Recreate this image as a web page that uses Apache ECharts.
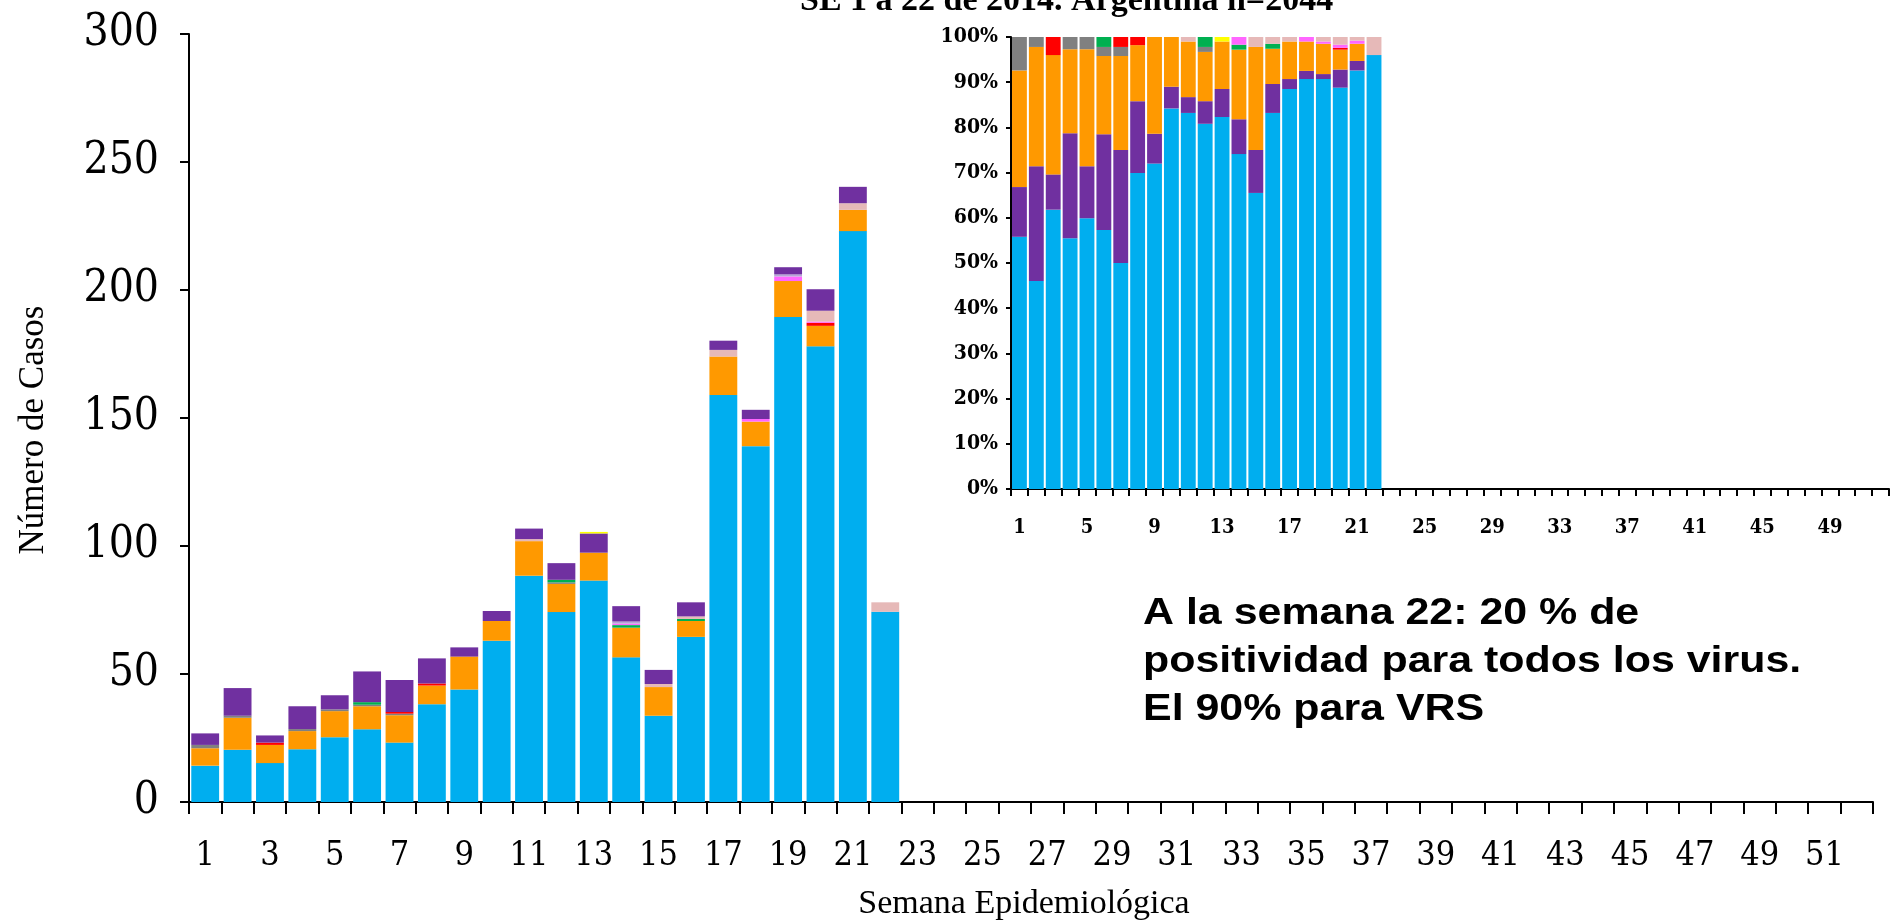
<!DOCTYPE html>
<html>
<head>
<meta charset="utf-8">
<script src="https://cdn.jsdelivr.net/npm/echarts@6/dist/echarts.min.js"></script>
<style>
html,body{margin:0;padding:0;background:#fff;}
#c{width:1892px;height:923px;}
</style>
</head>
<body>
<div id="c"></div>
<script>
// ---- Data ----
const weeks = Array.from({length: 52}, (_, i) => String(i + 1));

// Main chart: number of cases per week (SE 1-22)
const casesVSR      = [14.2, 20.4, 15.2, 20.6, 25.3, 28.4, 23.2, 38.2, 43.9, 63, 88.4, 74.2, 86.5, 56.5, 33.7, 64.5, 159, 139, 189.5, 178, 223, 74.3];
const casesOrange   = [6.8, 12.5, 7.1, 7.1, 10.2, 9, 10.7, 7.3, 12.9, 7.7, 13.5, 11, 10.9, 11.6, 11.2, 6.2, 15, 9.6, 14, 8, 8.3, 0];
const casesGray     = [1.3, 0.8, 0, 0.8, 0.7, 0.6, 0.6, 0, 0, 0, 0, 0.6, 0, 0, 0, 0, 0, 0, 0, 0, 0, 0];
const casesRed      = [0, 0, 0.9, 0, 0, 0, 0.7, 0.8, 0, 0, 0, 0, 0, 0, 0, 0, 0, 0, 0, 1.2, 0, 0];
const casesGreen    = [0, 0, 0, 0, 0, 1, 0, 0, 0, 0, 0, 1, 0, 1, 0, 0.8, 0, 0, 0, 0, 0, 0];
const casesMagenta  = [0, 0, 0, 0, 0, 0, 0, 0, 0, 0, 0, 0, 0, 0.6, 0, 0, 0, 1, 1.8, 0.5, 0, 0];
const casesLilac    = [0, 0, 0, 0, 0, 0, 0, 0, 0, 0, 0, 0, 0, 0.8, 0, 0, 0, 0, 0.8, 0, 0, 0];
const casesLightPink= [0, 0, 0, 0, 0, 0, 0, 0, 0, 0, 0.8, 0, 0, 0, 1.2, 1, 2.6, 0, 0, 4.2, 2.6, 3.7];
const casesPurple   = [4.5, 10.8, 2.8, 8.9, 5.5, 12, 12.5, 9.8, 3.6, 3.9, 4.1, 6.5, 7.5, 6, 5.5, 5.5, 3.6, 3.6, 2.8, 8.4, 6.4, 0];
const casesYellow   = [0, 0, 0, 0, 0, 0, 0, 0, 0, 0, 0, 0, 0.6, 0, 0, 0, 0, 0, 0, 0, 0, 0];

// Inset: percentage distribution per week
const pctVSR       = [55.8, 46, 61.8, 55.5, 59.9, 57.3, 50, 69.9, 72, 84.2, 83.2, 80.8, 82.3, 74.1, 65.5, 83.2, 88.5, 90.7, 90.7, 88.8, 92.6, 96];
const pctPurple    = [11, 25.4, 7.8, 23.2, 11.5, 21.2, 25, 15.9, 6.6, 4.8, 3.5, 5, 6.2, 7.7, 9.5, 6.4, 2.2, 1.8, 1.1, 4, 2.1, 0];
const pctOrange    = [25.8, 26.4, 26.4, 18.6, 25.9, 17.3, 20.8, 12.4, 21.4, 11, 12.3, 10.9, 10.5, 15.4, 22.8, 7.8, 8.3, 6.5, 6.7, 4.4, 3.8, 0];
const pctGray      = [7.4, 2.2, 0, 2.7, 2.7, 2, 2, 0, 0, 0, 0, 1.1, 0, 0, 0, 0, 0, 0, 0, 0, 0, 0];
const pctRed       = [0, 0, 4, 0, 0, 0, 2.2, 1.8, 0, 0, 0, 0, 0, 0, 0, 0, 0, 0, 0, 0.4, 0, 0];
const pctGreen     = [0, 0, 0, 0, 0, 2.2, 0, 0, 0, 0, 0, 2.2, 0, 1.1, 0, 1.1, 0, 0, 0, 0, 0, 0];
const pctYellow    = [0, 0, 0, 0, 0, 0, 0, 0, 0, 0, 0, 0, 1, 0, 0, 0, 0, 0, 0, 0, 0, 0];
const pctMagenta   = [0, 0, 0, 0, 0, 0, 0, 0, 0, 0, 0, 0, 0, 1.7, 0, 0, 0, 1, 0.5, 0.7, 0.7, 0];
const pctLightPink = [0, 0, 0, 0, 0, 0, 0, 0, 0, 0, 1, 0, 0, 0, 2.2, 1.5, 1, 0, 1, 1.7, 0.8, 4];

const titleText = 'SE 1 a 22 de 2014. Argentina n=2044';
const yAxisName = 'Número de Casos';
const xAxisName = 'Semana Epidemiológica';
const noteLines = ['A la semana 22: 20 % de', 'positividad para todos los virus.', 'El 90% para VRS'];

// ---- Styles ----
const C = {
  blue: '#00AEEF', orange: '#FF9900', gray: '#808080', red: '#FF0000',
  green: '#00B050', magenta: '#FF66FF', lilac: '#B4A7D6', lightpink: '#E6B9B8',
  purple: '#7030A0', yellow: '#FFFF00'
};
const SERIF = "'Liberation Serif', 'DejaVu Serif', serif";
const COND = "'DejaVu Serif Condensed', 'Liberation Serif', serif";

function bar(name, data, color, axisIdx, stack, gap) {
  return {
    name, type: 'bar', stack, data,
    xAxisIndex: axisIdx, yAxisIndex: axisIdx,
    itemStyle: { color },
    barCategoryGap: gap,
    animation: false
  };
}

const chart = echarts.init(document.getElementById('c'), null, { renderer: 'canvas' });

chart.setOption({
  animation: false,
  grid: [
    { left: 189, top: 34, right: 19, bottom: 121 },
    { left: 1011, top: 37, right: 3, bottom: 434 }
  ],
  xAxis: [
    {
      type: 'category', data: weeks, gridIndex: 0,
      axisLine: { lineStyle: { color: '#000', width: 2 } },
      axisTick: { show: true, interval: 0, length: 12, lineStyle: { color: '#000', width: 2 } },
      axisLabel: { interval: 1, color: '#000', fontFamily: COND, fontSize: 34, margin: 37 }
    },
    {
      type: 'category', data: weeks, gridIndex: 1,
      axisLine: { lineStyle: { color: '#000', width: 2 } },
      axisTick: { show: true, interval: 0, length: 7, lineStyle: { color: '#000', width: 2 } },
      axisLabel: { interval: 3, color: '#000', fontFamily: COND, fontWeight: 'bold', fontSize: 20, margin: 29 }
    }
  ],
  yAxis: [
    {
      type: 'value', gridIndex: 0, min: 0, max: 300, interval: 50,
      splitLine: { show: false },
      axisLine: { show: true, lineStyle: { color: '#000', width: 2 } },
      axisTick: { show: true, length: 9, lineStyle: { color: '#000', width: 2 } },
      axisLabel: { color: '#000', fontFamily: COND, fontSize: 44, margin: 30 }
    },
    {
      type: 'value', gridIndex: 1, min: 0, max: 100, interval: 10,
      splitLine: { show: false },
      axisLine: { show: true, lineStyle: { color: '#000', width: 2 } },
      axisTick: { show: true, length: 5, lineStyle: { color: '#000', width: 2 } },
      axisLabel: { color: '#000', fontFamily: COND, fontWeight: 'bold', fontSize: 21, margin: 13, formatter: '{value}%' }
    }
  ],
  series: [
    bar('VSR', casesVSR, C.blue, 0, 'main', '14%'),
    bar('Naranja', casesOrange, C.orange, 0, 'main', '14%'),
    bar('Gris', casesGray, C.gray, 0, 'main', '14%'),
    bar('Rojo', casesRed, C.red, 0, 'main', '14%'),
    bar('Verde', casesGreen, C.green, 0, 'main', '14%'),
    bar('Magenta', casesMagenta, C.magenta, 0, 'main', '14%'),
    bar('Lila', casesLilac, C.lilac, 0, 'main', '14%'),
    bar('Rosa', casesLightPink, C.lightpink, 0, 'main', '14%'),
    bar('Violeta', casesPurple, C.purple, 0, 'main', '14%'),
    bar('Amarillo', casesYellow, C.yellow, 0, 'main', '14%'),

    bar('VSR %', pctVSR, C.blue, 1, 'pct', '12%'),
    bar('Violeta %', pctPurple, C.purple, 1, 'pct', '12%'),
    bar('Naranja %', pctOrange, C.orange, 1, 'pct', '12%'),
    bar('Gris %', pctGray, C.gray, 1, 'pct', '12%'),
    bar('Rojo %', pctRed, C.red, 1, 'pct', '12%'),
    bar('Verde %', pctGreen, C.green, 1, 'pct', '12%'),
    bar('Amarillo %', pctYellow, C.yellow, 1, 'pct', '12%'),
    bar('Magenta %', pctMagenta, C.magenta, 1, 'pct', '12%'),
    bar('Rosa %', pctLightPink, C.lightpink, 1, 'pct', '12%')
  ],
  graphic: [
    {
      type: 'text', left: 800, top: -16,
      style: { text: titleText, fontFamily: SERIF, fontWeight: 'bold', fontSize: 34, fill: '#000' }
    },
    {
      type: 'text', x: 34, y: 430, rotation: Math.PI / 2,
      style: { text: yAxisName, fontFamily: SERIF, fontSize: 35, fill: '#000', align: 'center', verticalAlign: 'middle' }
    },
    {
      type: 'text', x: 1024, y: 904,
      style: { text: xAxisName, fontFamily: SERIF, fontSize: 34, fill: '#000', align: 'center', verticalAlign: 'middle' }
    },
    {
      type: 'text', x: 1143, y: 590, scaleX: 1.16,
      style: {
        x: 0, y: 0,
        text: noteLines.join('\n'), fontFamily: "'Liberation Sans', Arial, sans-serif",
        fontWeight: 'bold', fontSize: 37, lineHeight: 48, fill: '#000',
        align: 'left', verticalAlign: 'top'
      }
    }
  ]
});
</script>
</body>
</html>
